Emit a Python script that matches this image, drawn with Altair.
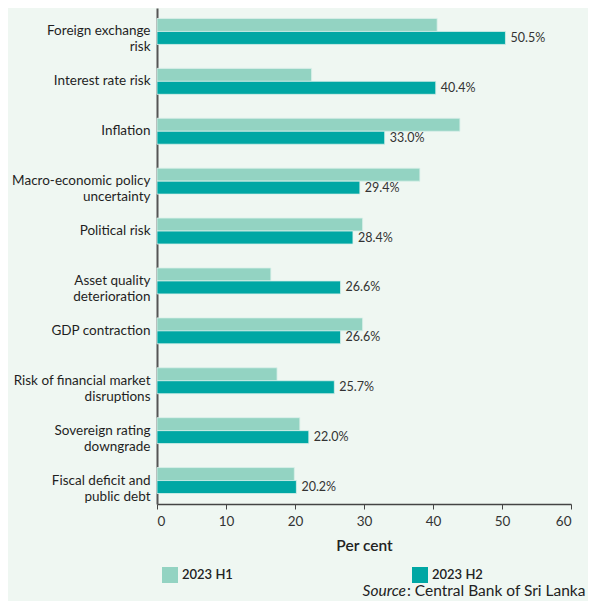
import altair as alt
import pandas as pd

# ---- data ----
categories = [
    "Foreign exchange|risk",
    "Interest rate risk",
    "Inflation",
    "Macro-economic policy|uncertainty",
    "Political risk",
    "Asset quality|deterioration",
    "GDP contraction",
    "Risk of financial market|disruptions",
    "Sovereign rating|downgrade",
    "Fiscal deficit and|public debt",
]
h1_values = [40.6, 22.4, 43.9, 38.1, 29.8, 16.5, 29.8, 17.4, 20.7, 19.9]
h2_values = [50.5, 40.4, 33.0, 29.4, 28.4, 26.6, 26.6, 25.7, 22.0, 20.2]
series = ["2023 H1", "2023 H2"]
series_colors = ["#93d3c2", "#00a7a4"]
x_ticks = [0, 10, 20, 30, 40, 50, 60]
source_label = "Source"
source_rest = ": Central Bank of Sri Lanka"

rows = []
for c, a, b in zip(categories, h1_values, h2_values):
    rows.append({"category": c, "series": series[0], "value": a})
    rows.append({"category": c, "series": series[1], "value": b})
df = pd.DataFrame(rows)

FONT = "Lato"
BG = "#eff7f2"
W, H = 414, 496

y_enc = alt.Y(
    "category:N",
    sort=categories,
    scale=alt.Scale(paddingInner=0.48, paddingOuter=0.21),
    axis=alt.Axis(
        title=None,
        labelExpr="split(datum.label, '|')",
        labelFont=FONT,
        labelFontSize=13.5,
        labelColor="#1f1f1f",
        labelLineHeight=16,
        labelPadding=7,
        ticks=False,
        domainColor="#555555",
        domainWidth=2,
        labelLimit=200,
    ),
)
yoff_enc = alt.YOffset("series:N", sort=series, scale=alt.Scale(paddingInner=0, paddingOuter=0))

bars = alt.Chart(df).mark_bar(stroke="#d9f0ea", strokeWidth=0.8).encode(
    x=alt.X(
        "value:Q",
        scale=alt.Scale(domain=[0, 60], nice=False),
        axis=alt.Axis(
            values=x_ticks,
            title="Per cent",
            titleFont=FONT,
            titleFontSize=15.5,
            titleFontWeight=600,
            titleColor="#222222",
            titlePadding=11,
            labelFont=FONT,
            labelFontSize=13.5,
            labelColor="#333333",
            labelPadding=5,
            tickSize=5,
            tickColor="#444444",
            domainColor="#444444",
            domainWidth=1.5,
            grid=False,
        ),
    ),
    y=y_enc,
    yOffset=yoff_enc,
    color=alt.Color(
        "series:N",
        scale=alt.Scale(domain=series, range=series_colors),
        legend=alt.Legend(
            title=None,
            orient="none",
            legendX=5,
            legendY=559,
            direction="horizontal",
            columns=2,
            columnPadding=179,
            symbolType="square",
            symbolSize=256,
            symbolStrokeWidth=0,
            labelFont=FONT,
            labelFontSize=13,
            labelFontWeight=600,
            labelColor="#222222",
            labelOffset=4,
        ),
    ),
)

labels = (
    alt.Chart(df)
    .transform_filter(alt.datum.series == series[1])
    .transform_calculate(lbl="format(datum.value, '.1f') + '%'")
    .mark_text(align="left", baseline="middle", dx=5, font=FONT, fontSize=12.5, color="#333333")
    .encode(
        x=alt.X("value:Q"),
        y=alt.Y("category:N", sort=categories),
        yOffset=alt.YOffset("series:N", sort=series),
        text="lbl:N",
    )
)

src_df = pd.DataFrame({"a": [source_label], "b": [source_rest]})
src1 = alt.Chart(src_df).mark_text(
    align="right", baseline="middle", font=FONT, fontSize=15.5, fontStyle="italic", color="#222222"
).encode(x=alt.value(249), y=alt.value(583), text="a:N")
src2 = alt.Chart(src_df).mark_text(
    align="left", baseline="middle", font=FONT, fontSize=15.5, color="#222222"
).encode(x=alt.value(250), y=alt.value(583), text="b:N")

chart = (
    alt.layer(bars, labels, src1, src2)
    .properties(
        width=W,
        height=H,
        background=BG,
        autosize=alt.AutoSizeParams(type="none"),
        padding={"left": 149, "top": 0, "right": 17, "bottom": 97},
    )
    .configure_view(stroke=None)
)

chart.save("out.html", embed_options={"renderer": "svg", "actions": False})
